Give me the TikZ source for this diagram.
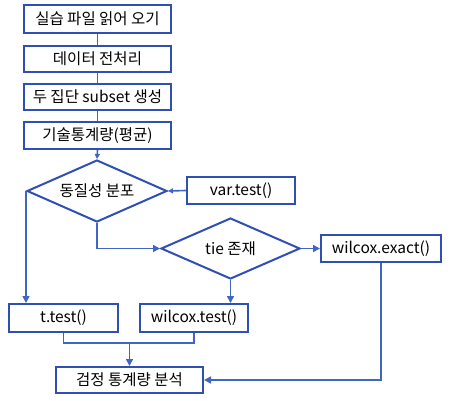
\documentclass[tikz,border=0pt]{standalone}
\usepackage{fontspec}
\setmainfont{Noto Sans CJK KR}
\usetikzlibrary{arrows.meta,shapes.geometric}
\definecolor{boxblue}{HTML}{2F4FB2}
\definecolor{lineblue}{HTML}{3E66C2}
\begin{document}
\begin{tikzpicture}[x=1pt,y=-1pt,
  box/.style={draw=boxblue,line width=2pt,fill=white,inner sep=0pt,font=\fontsize{15.5}{17}\selectfont},
  dia/.style={draw=boxblue,line width=2pt,fill=white,diamond,inner sep=0pt,font=\fontsize{15.5}{17}\selectfont},
  conn/.style={draw=lineblue,line width=1.6pt},
  arr/.style={conn,-{Triangle[length=7pt,width=7pt]}},
  sarr/.style={conn,-{Triangle[length=5pt,width=5pt]}}]
\useasboundingbox (0,0) rectangle (450,400);
\node[box,minimum width=147pt,minimum height=28pt] (b1) at (97.5,19) {실습 파일 읽어 오기};
\node[box,minimum width=147pt,minimum height=26pt] (b2) at (97.5,59) {데이터 전처리};
\node[box,minimum width=147pt,minimum height=26pt] (b3) at (97.5,97) {두 집단 subset 생성};
\node[box,minimum width=147pt,minimum height=27pt] (b4) at (97.5,135.5) {기술통계량(평균)};
\node[dia,minimum width=140pt,minimum height=62pt] (d1) at (97,191) {\makebox[0pt]{동질성 분포}};
\node[box,minimum width=108pt,minimum height=27pt] (var) at (241,190.5) {var.test()};
\node[dia,minimum width=139pt,minimum height=61pt] (d2) at (230.5,248.5) {\makebox[0pt]{tie 존재}};
\node[box,minimum width=120pt,minimum height=27pt] (wex) at (381,248.5) {wilcox.exact()};
\node[box,minimum width=109pt,minimum height=28pt] (tt) at (63.5,318) {t.test()};
\node[box,minimum width=108pt,minimum height=28pt] (wt) at (194,318) {wilcox.test()};
\node[box,minimum width=147pt,minimum height=26pt] (res) at (129.5,380) {검정 통계량 분석};
\coordinate (j1) at (63.5,343);
\coordinate (j2) at (194,343);
\coordinate (jm) at (129.5,343);
\draw[conn] (b1.south) -- (b2.north);
\draw[conn] (b2.south) -- (b3.north);
\draw[conn] (b3.south) -- (b4.north);
\draw[sarr] (b4.south) -- (d1.north);
\draw[sarr] (var.west) -- (d1.east);
\draw[arr] (d1.south) |- (d2.west);
\draw[arr] (d2.east) -- (wex.west);
\draw[arr] (d1.west) -- (d1.west |- tt.north);
\draw[arr] (d2.south) -- (d2.south |- wt.north);
\draw[conn] (tt.south) -- (j1) -- (j2) -- (wt.south);
\draw[arr] (jm) -- (res.north);
\draw[arr] (wex.south) |- (res.east);
\end{tikzpicture}
\end{document}
